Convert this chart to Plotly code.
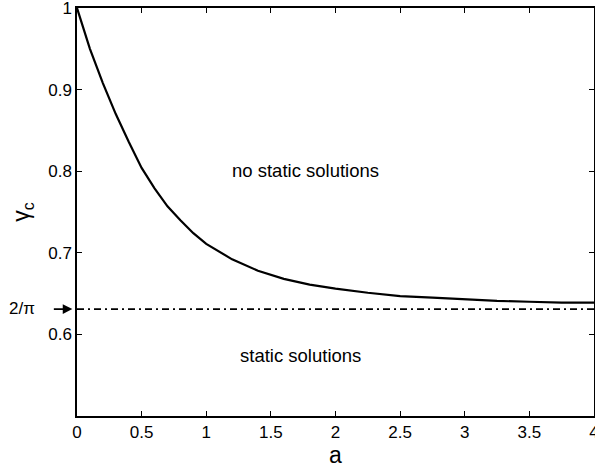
import plotly.graph_objects as go

a_vals = [0, 0.1, 0.2, 0.3, 0.4, 0.5, 0.6, 0.7, 0.8, 0.9, 1.0, 1.2, 1.4, 1.6, 1.8,
          2.0, 2.25, 2.5, 2.75, 3.0, 3.25, 3.5, 3.75, 4.0]
gamma_c = [1.0, 0.950, 0.908, 0.870, 0.836, 0.804, 0.779, 0.757, 0.740, 0.724, 0.711,
           0.692, 0.678, 0.668, 0.661, 0.656, 0.651, 0.647, 0.645, 0.643, 0.641, 0.640,
           0.639, 0.639]
limit_x = [0, 4]
limit_y = [0.631, 0.631]
x_ticks = [0, 0.5, 1, 1.5, 2, 2.5, 3, 3.5, 4]
x_tick_labels = ["0", "0.5", "1", "1.5", "2", "2.5", "3", "3.5", "4"]
y_ticks = [0.6, 0.7, 0.8, 0.9, 1.0]
y_tick_labels = ["0.6", "0.7", "0.8", "0.9", "1"]

font = "Liberation Sans, Arial, sans-serif"

fig = go.Figure()
fig.add_trace(go.Scatter(x=limit_x, y=limit_y, mode="lines",
                         line=dict(color="black", width=1.8, dash="7px,4px,2px,4px"),
                         showlegend=False))
fig.add_trace(go.Scatter(x=a_vals, y=gamma_c, mode="lines",
                         line=dict(color="black", width=2.2), showlegend=False))

fig.update_layout(
    width=595, height=470,
    margin=dict(l=77, r=1, t=8, b=54, autoexpand=False),
    paper_bgcolor="white", plot_bgcolor="white",
    font=dict(family=font, size=17, color="black"),
    xaxis=dict(range=[0, 4], tickvals=x_ticks, ticktext=x_tick_labels,
               ticks="inside", ticklen=5, tickcolor="black", tickwidth=1,
               showline=True, linecolor="black", linewidth=1.5, mirror="ticks",
               showgrid=False, zeroline=False, ticklabeloverflow="allow",
               automargin=False, tickfont=dict(size=17),
               title=dict(text="a", font=dict(size=23), standoff=2)),
    yaxis=dict(range=[0.5, 1.0], tickvals=y_ticks, ticktext=y_tick_labels,
               ticks="inside", ticklen=5, tickcolor="black", tickwidth=1,
               showline=True, linecolor="black", linewidth=1.5, mirror="ticks",
               showgrid=False, zeroline=False, ticklabeloverflow="allow",
               automargin=False, tickfont=dict(size=17),
               title=dict(text="γ<sub>c</sub>", font=dict(size=23), standoff=12)),
)

fig.add_annotation(x=1.77, y=0.801, xref="x", yref="y", text="no static solutions",
                   showarrow=False, font=dict(size=18.5))
fig.add_annotation(x=1.73, y=0.574, xref="x", yref="y", text="static solutions",
                   showarrow=False, font=dict(size=18.5))
fig.add_annotation(x=-0.009, y=0.631, xref="paper", yref="y", text="",
                   showarrow=True, arrowhead=2, arrowsize=1.2, arrowwidth=1.6,
                   arrowcolor="black", ax=-20, ay=0)
fig.add_annotation(x=-0.077, y=0.632, xref="paper", yref="y", text="2/π",
                   showarrow=False, font=dict(size=17), xanchor="right")

fig.write_html("out.html")
